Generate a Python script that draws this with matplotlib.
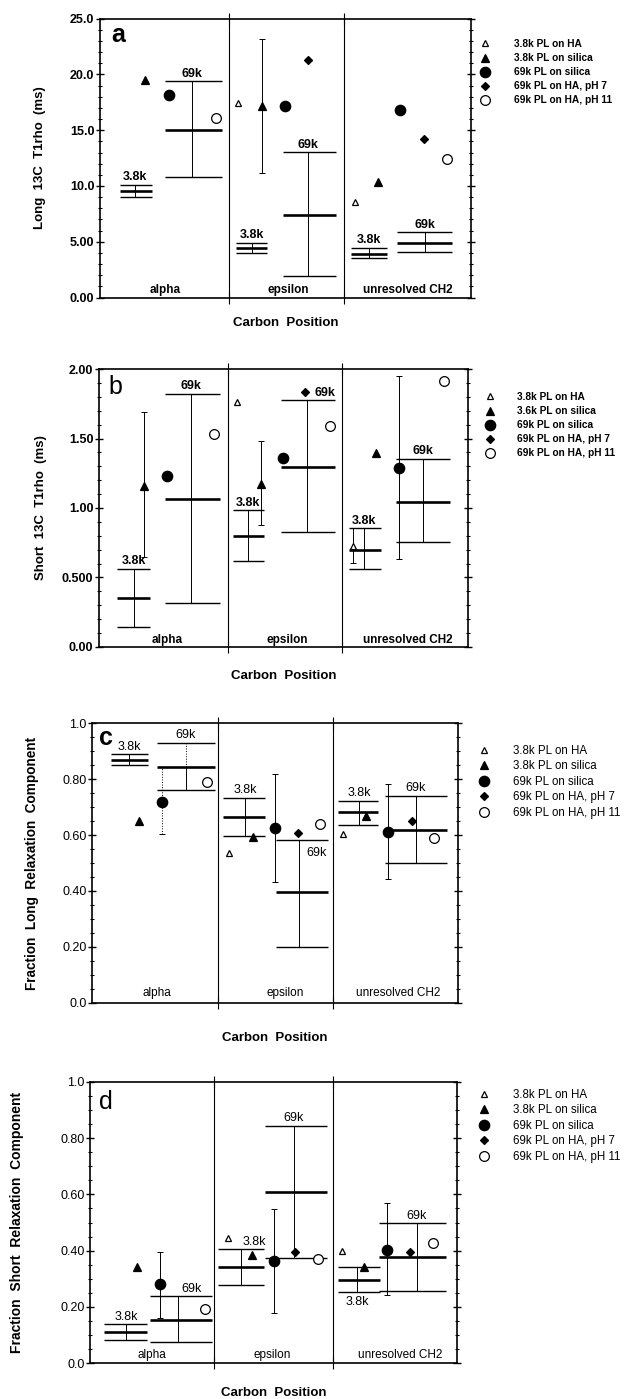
import numpy as np
import matplotlib.pyplot as plt
from matplotlib.lines import Line2D
from matplotlib.ticker import MultipleLocator

plt.rcParams['font.family'] = ['Liberation Sans', 'DejaVu Sans']

nan = np.nan
groups = ['alpha', 'epsilon', 'unresolved CH2']
series = ['3.8k PL on HA', '3.8k PL on silica', '69k PL on silica',
          '69k PL on HA, pH 7', '69k PL on HA, pH 11']
series_b = ['3.8k PL on HA', '3.6k PL on silica', '69k PL on silica',
            '69k PL on HA, pH 7', '69k PL on HA, pH 11']

# marker style per series: open tri, filled tri, filled circle, diamond, open circle
MARKERS = [('^', 'white', 5), ('^', 'black', 6), ('o', 'black', 7.5),
           ('D', 'black', 4.2), ('o', 'white', 7)]

# ---------------- panel a : long 13C T1rho (ms)
a_vals = [[nan, 17.4, 8.6],
          [19.5, 17.2, 10.4],
          [18.2, 17.2, 16.8],
          [nan, 21.3, 14.2],
          [16.1, nan, 12.4]]
a_x = [[nan, 1.116, 2.062],
       [0.364, 1.310, 2.248],
       [0.558, 1.496, 2.426],
       [nan, 1.682, 2.620],
       [0.938, nan, 2.806]]
a_err = {(1, 1): (11.2, 23.2)}
a_box38 = [(10.1, 9.59, 9.05), (4.93, 4.48, 3.97), (4.45, 3.94, 3.55)]
a_box69 = [(19.4, 15.0, 10.8), (13.05, 7.41, 1.94), (5.88, 4.92, 4.06)]
a_span38 = [(0.162, 0.420, 0.283), (1.100, 1.350, 1.229), (2.030, 2.321, 2.175)]
a_span69 = [(0.526, 0.986, 0.744), (1.480, 1.908, 1.682), (2.401, 2.846, 2.628)]
a_div = [1.043, 1.973]
a_cat = [0.526, 1.520, 2.490]

# ---------------- panel b : short 13C T1rho (ms)
b_vals = [[nan, 1.766, 0.726],
          [1.157, 1.176, 1.395],
          [1.233, 1.362, 1.288],
          [nan, 1.838, nan],
          [1.534, 1.591, 1.916]]
b_x = [[nan, 1.122, 2.065],
       [0.366, 1.317, 2.252],
       [0.553, 1.496, 2.439],
       [nan, 1.675, nan],
       [0.935, 1.878, 2.805]]
b_err = {(0, 2): (0.607, 0.858), (1, 0): (0.648, 1.694),
         (1, 1): (0.875, 1.484), (2, 2): (0.631, 1.950)}
b_box38 = [(0.564, 0.349, 0.146), (0.984, 0.800, 0.621), (0.853, 0.698, 0.559)]
b_box69 = [(1.821, 1.063, 0.315), (1.775, 1.297, 0.824), (1.355, 1.044, 0.757)]
b_span38 = [(0.146, 0.415, 0.285), (1.089, 1.341, 1.211), (2.033, 2.293, 2.154)]
b_span69 = [(0.537, 0.984, 0.748), (1.480, 1.919, 1.691), (2.415, 2.854, 2.634)]
b_div = [1.049, 1.976]
b_cat = [0.553, 1.528, 2.512]

# ---------------- panel c : fraction long relaxation component
c_vals = [[nan, 0.537, 0.603],
          [0.650, 0.593, 0.668],
          [0.720, 0.624, 0.612],
          [nan, 0.606, 0.652],
          [0.789, 0.640, 0.591]]
c_x = [[nan, 1.123, 2.057],
       [0.385, 1.320, 2.246],
       [0.574, 1.500, 2.426],
       [nan, 1.689, 2.623],
       [0.943, 1.869, 2.803]]
c_err = {(2, 0): (0.605, 0.842), (2, 1): (0.433, 0.819), (2, 2): (0.442, 0.783)}
c_box38 = [(0.890, 0.870, 0.850), (0.734, 0.663, 0.597), (0.723, 0.681, 0.636)]
c_box69 = [(0.930, 0.844, 0.760), (0.582, 0.395, 0.198), (0.741, 0.618, 0.499)]
c_span38 = [(0.156, 0.459, 0.303), (1.074, 1.418, 1.254), (2.016, 2.344, 2.189)]
c_span69 = [(0.533, 1.008, 0.770), (1.508, 1.934, 1.697), (2.402, 2.910, 2.656)]
c_div = [1.033, 1.975]
c_cat = [0.533, 1.582, 2.508]

# ---------------- panel d : fraction short relaxation component
d_vals = [[nan, 0.446, 0.400],
          [0.343, 0.385, 0.341],
          [0.280, 0.363, 0.402],
          [nan, 0.394, 0.396],
          [0.193, 0.369, 0.426]]
d_x = [[nan, 1.128, 2.060],
       [0.384, 1.324, 2.240],
       [0.572, 1.504, 2.428],
       [nan, 1.676, 2.616],
       [0.940, 1.864, 2.804]]
d_err = {(2, 0): (0.160, 0.394), (2, 1): (0.178, 0.548), (2, 2): (0.243, 0.568)}
d_box38 = [(0.138, 0.111, 0.083), (0.405, 0.341, 0.278), (0.343, 0.296, 0.253)]
d_box69 = [(0.239, 0.154, 0.075), (0.844, 0.607, 0.375), (0.497, 0.379, 0.258)]
d_span38 = [(0.114, 0.466, 0.294), (1.046, 1.422, 1.234), (2.027, 2.371, 2.183)]
d_span69 = [(0.490, 0.997, 0.719), (1.431, 1.937, 1.668), (2.362, 2.910, 2.673)]
d_div = [1.014, 1.986]
d_cat = [0.507, 1.488, 2.534]

W, H = 637, 1399


def rect(l, r, t, b):
    return [l / W, 1 - b / H, (r - l) / W, (b - t) / H]


panels = [
    dict(letter='a', box=(100, 471, 18.7, 297.5), vals=a_vals, x=a_x, err=a_err,
         box38=a_box38, box69=a_box69, span38=a_span38, span69=a_span69, div=a_div, cat=a_cat,
         ylim=(0, 25), yt=[0, 5, 10, 15, 20, 25],
         ytl=['0.00', '5.00', '10.0', '15.0', '20.0', '25.0'], minor=1,
         ylabel='Long  13C  T1rho  (ms)', yl_fs=9.5, yl_off=54, xl_off=25, cat_y=0.028,
         lab={}, dotted=[], bold=True, labels=series,
         leg=(480, 39), leg_pad=2.4, leg_fs=7.3, let_xy=(118, 35), let_w='bold'),
    dict(letter='b', box=(99, 468, 369, 647), vals=b_vals, x=b_x, err=b_err,
         box38=b_box38, box69=b_box69, span38=b_span38, span69=b_span69, div=b_div, cat=b_cat,
         ylim=(0, 2), yt=[0, 0.5, 1.0, 1.5, 2.0],
         ytl=['0.00', '0.500', '1.00', '1.50', '2.00'], minor=0.1,
         ylabel='Short  13C  T1rho  (ms)', yl_fs=9.5, yl_off=52, xl_off=29, cat_y=0.025,
         lab={('69k', 1): (1.837, 1.775, 'bottom')}, dotted=[], bold=True, labels=series_b,
         leg=(485, 392), leg_pad=2.2, leg_fs=7.3, let_xy=(115, 387), let_w='normal'),
    dict(letter='c', box=(92, 458, 723.3, 1002.7), vals=c_vals, x=c_x, err=c_err,
         box38=c_box38, box69=c_box69, span38=c_span38, span69=c_span69, div=c_div, cat=c_cat,
         ylim=(0, 1), yt=[0, 0.2, 0.4, 0.6, 0.8, 1.0],
         ytl=['0.0', '0.20', '0.40', '0.60', '0.80', '1.0'], minor=0.05,
         ylabel='Fraction  Long  Relaxation  Component', yl_fs=9.8, yl_off=53, xl_off=35, cat_y=0.035,
         lab={('69k', 1): (1.844, 0.537, 'center')}, dotted=[(2, 0)], bold=False, labels=series,
         leg=(478, 745), leg_pad=2.0, leg_fs=8.3, let_xy=(106, 738), let_w='bold'),
    dict(letter='d', box=(90, 457, 1081.7, 1363.3), vals=d_vals, x=d_x, err=d_err,
         box38=d_box38, box69=d_box69, span38=d_span38, span69=d_span69, div=d_div, cat=d_cat,
         ylim=(0, 1), yt=[0, 0.2, 0.4, 0.6, 0.8, 1.0],
         ytl=['0.0', '0.20', '0.40', '0.60', '0.80', '1.0'], minor=0.05,
         ylabel='Fraction  Short  Relaxation  Component', yl_fs=10, yl_off=66, xl_off=30, cat_y=0.029,
         lab={('69k', 0): (0.834, 0.239, 'bottom'), ('3.8k', 1): (1.341, 0.405, 'bottom'),
              ('3.8k', 2): (2.183, 0.219, 'center')},
         dotted=[], bold=False, labels=series,
         leg=(478, 1089), leg_pad=2.0, leg_fs=8.3, let_xy=(106, 1102), let_w='normal'),
]

fig = plt.figure(figsize=(W / 100, H / 100), dpi=100)

for p in panels:
    l, r, t, b = p['box']
    ax = fig.add_axes(rect(l, r, t, b))
    pw, ph = r - l, b - t
    tw = 'bold' if p['bold'] else 'normal'

    for xd in p['div']:
        ax.axvline(xd, color='k', lw=0.8, zorder=1)

    # range boxes (3.8k / 69k)
    for tag, boxes, spans in (('3.8k', p['box38'], p['span38']), ('69k', p['box69'], p['span69'])):
        for g, ((top, mid, bot), (x0, x1, xc)) in enumerate(zip(boxes, spans)):
            ax.hlines([top, bot], x0, x1, color='k', lw=1.0, zorder=2)
            ax.hlines(mid, x0, x1, color='k', lw=1.9, zorder=2)
            if p['letter'] == 'c' and tag == '69k' and g == 0:
                ax.vlines(xc, bot, mid, color='k', lw=0.7, zorder=2)
                ax.vlines(xc, mid, top, color='k', lw=0.7, ls=':', zorder=2)
            else:
                ax.vlines(xc, bot, top, color='k', lw=0.7, zorder=2)
            lx, ly, va = p['lab'].get((tag, g), (xc, top, 'bottom'))
            ax.annotate(tag, (lx, ly), xytext=(0, 1 if va == 'bottom' else 0),
                        textcoords='offset points', ha='center', va=va,
                        fontsize=9, fontweight=tw)

    # error bars on individual points
    for (s, g), (lo, hi) in p['err'].items():
        xv, yv = p['x'][s][g], p['vals'][s][g]
        eb = ax.errorbar([xv], [yv], yerr=[[yv - lo], [hi - yv]], fmt='none',
                         ecolor='k', elinewidth=0.7, capsize=2, capthick=0.7, zorder=3)
        if (s, g) in p['dotted']:
            eb.lines[2][0].set_linestyle(':')

    handles = []
    for s, (vals, xs) in enumerate(zip(p['vals'], p['x'])):
        m, fc, ms = MARKERS[s]
        ax.plot(xs, vals, ls='none', marker=m, mfc=fc, mec='k', ms=ms, mew=0.9, zorder=4)
        handles.append(Line2D([], [], ls='none', marker=m, mfc=fc, mec='k', ms=ms, mew=0.9))

    ax.set_xlim(0, 3)
    ax.set_ylim(*p['ylim'])
    ax.set_yticks(p['yt'], labels=p['ytl'], fontsize=9,
                  fontweight='bold' if p['letter'] in 'ab' else 'normal')
    ax.yaxis.set_minor_locator(MultipleLocator(p['minor']))
    ax.tick_params(axis='y', which='both', left=True, right=True, direction='inout')
    ax.tick_params(axis='y', which='major', length=6, width=1.0, pad=1)
    ax.tick_params(axis='y', which='minor', length=3, width=0.8)
    ax.set_xticks(p['div'], labels=[])
    ax.tick_params(axis='x', direction='inout', length=8, width=0.8, top=True, bottom=True)
    for sp in ax.spines.values():
        sp.set_linewidth(1.2)

    for name, cx in zip(groups, p['cat']):
        ax.text(cx, p['cat_y'], name, transform=ax.get_xaxis_transform(),
                ha='center', va='center', fontsize=8.5, fontweight=tw)

    ax.set_ylabel(p['ylabel'], fontsize=p['yl_fs'], fontweight='bold')
    ax.yaxis.set_label_coords(-p['yl_off'] / pw, 0.5)
    ax.text(0.5, -p['xl_off'] / ph, 'Carbon  Position', transform=ax.transAxes,
            ha='center', va='center', fontsize=9.5, fontweight='bold')

    lx_, ly_ = p['let_xy']
    ax.text((lx_ - l) / pw, 1 - (ly_ - t) / ph, p['letter'], transform=ax.transAxes,
            ha='center', va='center', fontsize=18, fontweight=p['let_w'])

    gx, gy = p['leg']
    ax.legend(handles, p['labels'], loc='upper left',
              bbox_to_anchor=((gx - l) / pw, 1 - (gy - t) / ph),
              frameon=False, borderaxespad=0, borderpad=0, handlelength=1.0,
              handletextpad=p['leg_pad'], labelspacing=0.4 if p['bold'] else 0.3,
              prop=dict(size=p['leg_fs'], weight=tw))

fig.savefig('out.png', dpi=100)
